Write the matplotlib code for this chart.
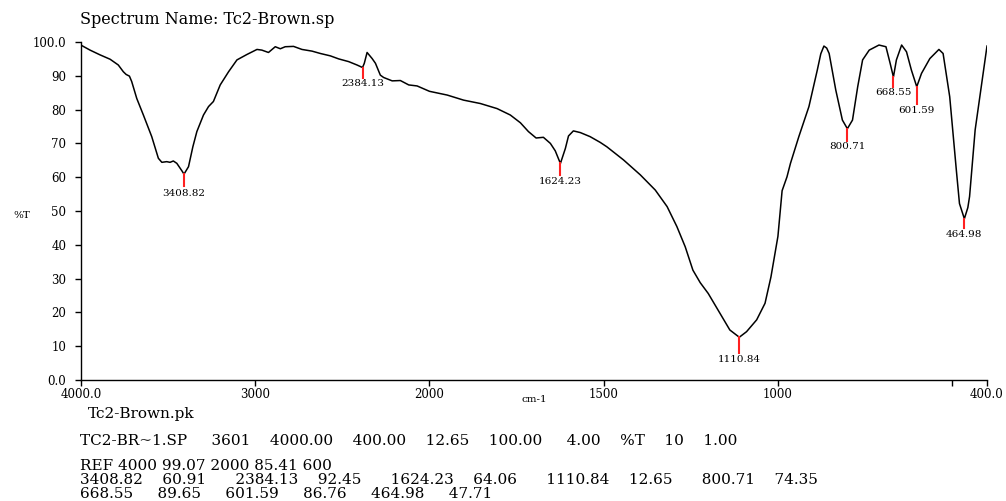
import numpy as np
import matplotlib.pyplot as plt

plt.rcParams['font.family'] = ['DejaVu Serif']

# IR spectrum, %T vs wavenumber (cm-1)
wavenumber = [4000, 3948, 3891, 3833, 3786, 3757, 3741, 3722, 3709, 3680,
              3642, 3594, 3556, 3536, 3508, 3489, 3470, 3450, 3421, 3408.82,
              3383, 3358, 3335, 3297, 3268, 3240, 3201, 3153, 3105, 3048,
              2990, 2962, 2924, 2885, 2856, 2828, 2780, 2732, 2674, 2626,
              2569, 2521, 2464, 2416, 2384.13, 2374, 2358, 2329, 2310, 2282,
              2263, 2214, 2167, 2119, 2071, 2000, 1949, 1902, 1854, 1806,
              1768, 1739, 1716, 1694, 1673, 1653, 1639, 1624.23, 1610, 1601,
              1587, 1567, 1539, 1510, 1491, 1443, 1395, 1352, 1318, 1290,
              1266, 1244, 1223, 1200, 1166, 1138, 1110.84, 1090, 1061, 1037,
              1020, 1000, 988, 974, 964, 940, 911, 887, 877, 868,
              860, 853, 834, 815, 800.71, 786, 771, 757, 738, 710,
              690, 678, 668.55, 660, 645, 631, 617, 601.59, 588, 564,
              538, 526, 507, 488, 479, 464.98, 455, 450, 434, 400]
transmittance = [99.07, 97.6, 96.2, 94.9, 93.2, 91.2, 90.4, 89.9, 88.3, 83.3,
                 78.4, 72.0, 65.6, 64.4, 64.6, 64.4, 64.8, 64.1, 61.9, 60.91,
                 63.1, 69.0, 73.5, 78.4, 80.9, 82.4, 87.3, 91.2, 94.7, 96.3,
                 97.8, 97.6, 96.9, 98.6, 98.0, 98.6, 98.7, 97.8, 97.3, 96.6,
                 95.9, 95.0, 94.2, 93.2, 92.45, 93.7, 96.9, 95.1, 93.7, 90.2,
                 89.5, 88.5, 88.6, 87.3, 87.0, 85.41, 84.3, 82.8, 81.8, 80.3,
                 78.4, 76.1, 73.5, 71.6, 71.8, 70.0, 67.8, 64.06, 68.5, 72.2,
                 73.7, 73.2, 72.0, 70.3, 69.0, 65.1, 60.7, 56.2, 51.3, 45.4,
                 39.4, 32.5, 28.8, 25.6, 19.7, 14.8, 12.65, 14.3, 17.8, 22.7,
                 30.5, 42.5, 56.0, 60.1, 64.1, 72.0, 80.9, 91.7, 96.5, 98.8,
                 98.2, 96.6, 85.8, 76.9, 74.35, 76.9, 86.8, 94.7, 97.6, 99.1,
                 98.6, 93.7, 89.65, 94.7, 99.1, 97.1, 91.7, 86.76, 90.7, 95.1,
                 97.8, 96.6, 83.8, 62.1, 52.2, 47.71, 51.0, 54.3, 74.0, 98.8]

peak_wn = [3408.82, 2384.13, 1624.23, 1110.84, 800.71, 668.55, 601.59, 464.98]
peak_t = [60.91, 92.45, 64.06, 12.65, 74.35, 89.65, 86.76, 47.71]

x_ticks = [4000, 3000, 2000, 1500, 1000, 500, 400]
x_ticklabels = ['4000.0', '3000', '2000', '1500', '1000', '', '400.0']
y_ticks = [0, 10, 20, 30, 40, 50, 60, 70, 80, 90, 100]
y_ticklabels = ['0.0', '10', '20', '30', '40', '50', '60', '70', '80', '90', '100.0']

pk_name = 'Tc2-Brown.pk'
pk_info = 'TC2-BR~1.SP     3601    4000.00    400.00    12.65    100.00     4.00    %T    10    1.00'
pk_table = [
    'REF 4000 99.07 2000 85.41 600',
    '3408.82    60.91      2384.13    92.45      1624.23    64.06      1110.84    12.65      800.71    74.35',
    '668.55     89.65     601.59     86.76     464.98     47.71',
]


# 2x expansion below 2000 cm-1
def fwd(w):
    w = np.asarray(w, dtype=float)
    return np.where(w > 2000, 2000 + (w - 2000) / 2, w)


def inv(u):
    u = np.asarray(u, dtype=float)
    return np.where(u > 2000, 2000 + (u - 2000) * 2, u)


fig = plt.figure(figsize=(10.06, 5.01), dpi=100)
ax = fig.add_axes([81 / 1006, 1 - 380 / 501, 906 / 1006, 338 / 501])
ax.set_xscale('function', functions=(fwd, inv))
ax.set_xlim(4000, 400)
ax.set_ylim(0, 100)

ax.plot(wavenumber, transmittance, color='black', linewidth=1.1)

# peak picks: short red stroke under each minimum plus its position
mark_len = [3.5, 3.0, 3.5, 4.7, 3.5, 3.0, 5.0, 2.7]
label_gap = [13.7, 11.2, 13.2, 16.3, 12.5, 11.5, 16.8, 11.3]
for w, t, L, g in zip(peak_wn, peak_t, mark_len, label_gap):
    ax.plot([w, w], [t, t - L], color='#ff2020', linewidth=1.5)
    ax.annotate('%.2f' % w, xy=(w, t), xytext=(0, -g), textcoords='offset points',
                ha='center', va='center', fontsize=7.5)

ax.set_xticks(x_ticks)
ax.set_xticklabels(x_ticklabels)
ax.set_xticks([], minor=True)
ax.set_yticks(y_ticks)
ax.set_yticklabels(y_ticklabels)
ax.tick_params(axis='both', direction='out', length=4, width=1, labelsize=8.5)
ax.tick_params(axis='y', pad=6.5)
ax.tick_params(axis='x', pad=2)

for s in ['top', 'right']:
    ax.spines[s].set_visible(False)
for s in ['left', 'bottom']:
    ax.spines[s].set_linewidth(1.0)

ax.set_xlabel('cm-1', fontsize=7.5)
ax.xaxis.set_label_coords(0.5, -0.059)
ax.xaxis.label.set_va('center')
ax.set_ylabel('%T', fontsize=7.5, rotation=0)
ax.yaxis.set_label_coords(-0.065, 0.488)
ax.yaxis.label.set_va('center')

fig.text(80 / 1006, 1 - 20 / 501, 'Spectrum Name: Tc2-Brown.sp', ha='left', va='center', fontsize=11.5)

# peak table printout under the plot
fig.text(88 / 1006, 1 - 414 / 501, pk_name, ha='left', va='center', fontsize=11)
fig.text(80 / 1006, 1 - 441 / 501, pk_info, ha='left', va='center', fontsize=11)
fig.text(80 / 1006, 1 - 480 / 501, '\n'.join(pk_table), ha='left', va='center',
         fontsize=11, linespacing=1.04)

fig.savefig('out.png', dpi=100)
